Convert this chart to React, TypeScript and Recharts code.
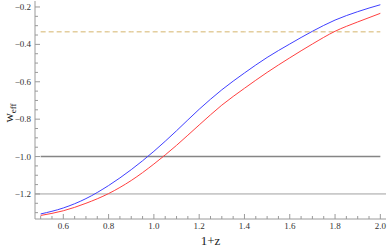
import { LineChart, Line, XAxis, YAxis, ReferenceLine } from "recharts";

// 1+z grid and the two w_eff curves
const zValues = [0.5, 0.6, 0.7, 0.8, 0.9, 1.0, 1.1, 1.2, 1.3, 1.4, 1.5, 1.6, 1.7, 1.8, 1.9, 2.0];
const blueW = [-1.307, -1.275, -1.225, -1.155, -1.07, -0.972, -0.862, -0.747, -0.643, -0.553, -0.47, -0.398, -0.33, -0.27, -0.225, -0.188];
const redW = [-1.315, -1.29, -1.25, -1.198, -1.128, -1.04, -0.94, -0.831, -0.725, -0.635, -0.55, -0.472, -0.398, -0.33, -0.28, -0.234];
const phantomDivide = -1.0;
const accelLimit = -0.333;
const lowerRef = -1.2;

const xMajor = [0.6, 0.8, 1.0, 1.2, 1.4, 1.6, 1.8, 2.0];
const yMajor = [-1.2, -1.0, -0.8, -0.6, -0.4, -0.2];

const frame = "#9a9a9a";
const font = "Liberation Serif, Times New Roman, serif";

const data = zValues.map((z, i) => ({
  z,
  blue: blueW[i],
  red: redW[i],
  flat: phantomDivide,
  dash: accelLimit,
}));

// minor ticks every 0.05
const xTicks = Array.from({ length: 31 }, (_, i) => +(0.5 + i * 0.05).toFixed(2));
const yTicks = Array.from({ length: 23 }, (_, i) => +(-1.3 + i * 0.05).toFixed(2));

const isMajor = (v: number, majors: number[]) => majors.some((m) => Math.abs(m - v) < 1e-6);
const fmt = (v: number) => (v < 0 ? "\u2212" : "") + Math.abs(v).toFixed(1);

const BottomTick = (props: any) => {
  const { x, y, payload } = props;
  const major = isMajor(payload.value, xMajor);
  return (
    <g>
      <line x1={x} y1={y} x2={x} y2={y - (major ? 5 : 3)} stroke={frame} />
      {major && (
        <text x={x} y={y + 10} textAnchor="middle" fontSize={9} fontFamily={font} fill="#333">
          {fmt(payload.value)}
        </text>
      )}
    </g>
  );
};

const TopTick = (props: any) => {
  const { x, y, payload } = props;
  const major = isMajor(payload.value, xMajor);
  return <line x1={x} y1={y} x2={x} y2={y + (major ? 5 : 3)} stroke={frame} />;
};

const LeftTick = (props: any) => {
  const { x, y, payload } = props;
  const major = isMajor(payload.value, yMajor);
  return (
    <g>
      <line x1={x} y1={y} x2={x + (major ? 5 : 3)} y2={y} stroke={frame} />
      {major && (
        <text x={x - 4} y={y + 3} textAnchor="end" fontSize={9} fontFamily={font} fill="#333">
          {fmt(payload.value)}
        </text>
      )}
    </g>
  );
};

const RightTick = (props: any) => {
  const { x, y, payload } = props;
  const major = isMajor(payload.value, yMajor);
  return <line x1={x} y1={y} x2={x - (major ? 5 : 3)} y2={y} stroke={frame} />;
};

const WeffLabel = () => (
  <text transform="translate(13, 113) rotate(-90)" textAnchor="middle" fontFamily={font} fill="#222">
    <tspan fontSize={13}>w</tspan>
    <tspan fontSize={9} dy={3}>eff</tspan>
  </text>
);

export default function App() {
  return (
    <div style={{ position: "absolute", left: 0, top: 0 }}>
      <LineChart width={389} height={247} data={data} margin={{ top: 1, right: 3, bottom: 0, left: 0 }}>
        <XAxis
          xAxisId="b"
          type="number"
          dataKey="z"
          domain={[0.475, 2.025]}
          allowDataOverflow
          ticks={xTicks}
          interval={0}
          height={28}
          tickSize={0}
          tickMargin={0}
          tickLine={false}
          tick={<BottomTick />}
          axisLine={{ stroke: frame }}
          label={{ value: "1+z", position: "insideBottom", offset: 2, fontSize: 13, fontFamily: font, fill: "#222" }}
        />
        <XAxis
          xAxisId="t"
          orientation="top"
          type="number"
          dataKey="z"
          domain={[0.475, 2.025]}
          allowDataOverflow
          ticks={xTicks}
          interval={0}
          height={0}
          tickSize={0}
          tickMargin={0}
          tickLine={false}
          tick={<TopTick />}
          axisLine={{ stroke: frame }}
        />
        <YAxis
          yAxisId="l"
          type="number"
          domain={[-1.334, -0.168]}
          allowDataOverflow
          ticks={yTicks}
          interval={0}
          width={35}
          tickSize={0}
          tickMargin={0}
          tickLine={false}
          tick={<LeftTick />}
          axisLine={{ stroke: frame }}
          label={<WeffLabel />}
        />
        <YAxis
          yAxisId="r"
          orientation="right"
          type="number"
          domain={[-1.334, -0.168]}
          allowDataOverflow
          ticks={yTicks}
          interval={0}
          width={0}
          tickSize={0}
          tickMargin={0}
          tickLine={false}
          tick={<RightTick />}
          axisLine={{ stroke: frame }}
        />
        <ReferenceLine xAxisId="b" yAxisId="l" y={lowerRef} stroke="#a0a0a0" strokeWidth={1} />
        <Line xAxisId="b" yAxisId="l" dataKey="flat" stroke="#858585" strokeWidth={1.6} dot={false} isAnimationActive={false} />
        <Line xAxisId="b" yAxisId="l" dataKey="dash" stroke="#d4b46c" strokeWidth={1} strokeDasharray="5 3" dot={false} isAnimationActive={false} />
        <Line xAxisId="b" yAxisId="l" type="monotone" dataKey="red" stroke="#ff4040" strokeWidth={1} dot={false} isAnimationActive={false} />
        <Line xAxisId="b" yAxisId="l" type="monotone" dataKey="blue" stroke="#4040ff" strokeWidth={1} dot={false} isAnimationActive={false} />
      </LineChart>
    </div>
  );
}
